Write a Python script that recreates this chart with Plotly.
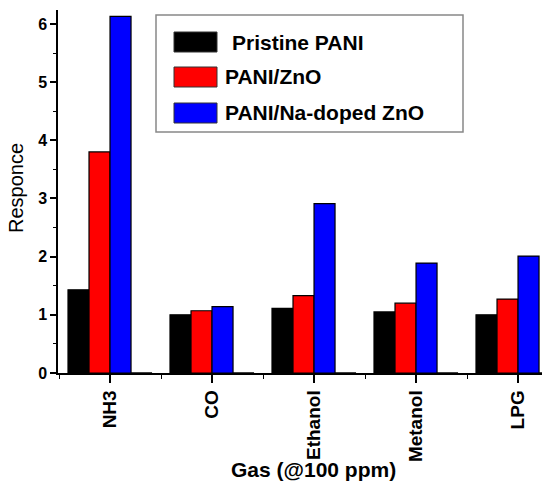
import plotly.graph_objects as go

# ---- data ----
gases = ["NH3", "CO", "Ethanol", "Metanol", "LPG"]
pristine_pani = [1.43, 1.00, 1.11, 1.05, 1.00]
pani_zno = [3.80, 1.07, 1.33, 1.20, 1.27]
pani_na_zno = [6.13, 1.14, 2.91, 1.89, 2.01]
empty_column = [0, 0, 0, 0, 0]
series_names = ["Pristine PANI", "PANI/ZnO", "PANI/Na-doped ZnO"]
series_colors = ["#000000", "#ff0000", "#0000ff"]
y_ticks = [0, 1, 2, 3, 4, 5, 6]

FONT = "Liberation Sans, Arial, sans-serif"
W, H = 542, 481
L, T, R, B = 58, 10, 0, 108
PW, PH = W - L - R, H - T - B


def px_x(px):
    return (px - L) / PW


def px_y(py):
    return (H - B - py) / PH


xpos = list(range(len(gases)))
fig = go.Figure()
for name, vals, col in zip(series_names, [pristine_pani, pani_zno, pani_na_zno], series_colors):
    fig.add_trace(go.Bar(x=xpos, y=vals, name=name, marker=dict(color=col, line=dict(color="#000000", width=1.2)),
                         showlegend=False))
fig.add_trace(go.Bar(x=xpos, y=empty_column, name="", marker=dict(color="white", line=dict(color="#000", width=1)),
                     showlegend=False, hoverinfo="skip"))

fig.update_layout(
    width=W, height=H,
    margin=dict(l=L, r=R, t=T, b=B),
    paper_bgcolor="white", plot_bgcolor="white",
    barmode="group", bargap=0.176, bargroupgap=0,
    font=dict(family=FONT, color="#000"),
)
fig.update_xaxes(
    range=[-0.51, 4.235], tickvals=xpos, ticktext=[f"<b>{g}</b>" for g in gases],
    tickangle=-90, tickfont=dict(size=19, family=FONT, color="#000"),
    showline=True, linecolor="#000", linewidth=1.5, ticks="outside", ticklen=8, tickwidth=1.5,
    tickcolor="#000", showgrid=False, zeroline=False,
    minor=dict(tickvals=[-0.5, 0.5, 1.5, 2.5, 3.5], ticks="outside", ticklen=4, tickcolor="#000", tickwidth=1.2),
)
fig.update_yaxes(
    range=[0, 6.24], tickvals=y_ticks, ticktext=[f"<b>{v}</b>" for v in y_ticks],
    tickfont=dict(size=16, family=FONT, color="#000"),
    showline=True, linecolor="#000", linewidth=1.5, ticks="outside", ticklen=6, tickwidth=1.5,
    tickcolor="#000", showgrid=False, zeroline=False,
    minor=dict(dtick=0.5, ticks="outside", ticklen=3, tickcolor="#000", tickwidth=1.2),
)

# axis titles
fig.add_annotation(text="Responce", xref="paper", yref="paper", x=px_x(16), y=px_y(188), textangle=-90,
                   showarrow=False, font=dict(size=20, family=FONT, color="#000"), xanchor="center", yanchor="middle")
fig.add_annotation(text="<b>Gas (@100 ppm)</b>", xref="paper", yref="paper", x=px_x(313), y=px_y(469),
                   showarrow=False, font=dict(size=21, family=FONT, color="#000"), xanchor="center", yanchor="middle")

# legend box
fig.add_shape(type="rect", xref="paper", yref="paper", x0=px_x(156), x1=px_x(463), y0=px_y(15), y1=px_y(132),
              line=dict(color="#888", width=1.5), fillcolor="white", layer="above")
legend_rows = [42, 77, 113]
legend_text_x = [230, 223, 223]
for name, col, cy, tx in zip(series_names, series_colors, legend_rows, legend_text_x):
    fig.add_shape(type="rect", xref="paper", yref="paper", x0=px_x(174), x1=px_x(217),
                  y0=px_y(cy - 10), y1=px_y(cy + 10), line=dict(color="#333", width=1), fillcolor=col, layer="above")
    fig.add_annotation(text=f"<b>{name}</b>", xref="paper", yref="paper", x=px_x(tx), y=px_y(cy),
                       xanchor="left", yanchor="middle", showarrow=False,
                       font=dict(size=21, family=FONT, color="#000"))

fig.write_html("out.html")
